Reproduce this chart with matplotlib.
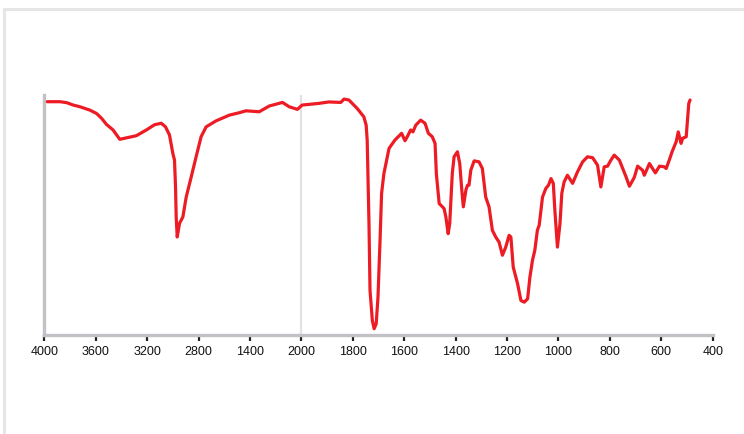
import numpy as np
import matplotlib
matplotlib.use("Agg")
import matplotlib.pyplot as plt
from matplotlib.lines import Line2D

plt.rcParams['font.family'] = ['Liberation Sans', 'DejaVu Sans']

# IR spectrum: wavenumber (cm-1) and transmittance (%)
wavenumber = [3977, 3878, 3826, 3775, 3723, 3646, 3594, 3555, 3516, 3465, 3413, 3361,
              3284, 3206, 3142, 3090, 3057, 3026, 3000, 2987, 2979, 2974, 2966, 2948,
              2922, 2896, 2857, 2819, 2780, 2741, 2664, 2560, 2483, 2431, 2328, 2250,
              2147, 2095, 2031, 1997, 1932, 1893, 1847, 1834, 1815, 1783, 1757, 1748,
              1744, 1737, 1733, 1724, 1717, 1709, 1702, 1694, 1688, 1679, 1659, 1636,
              1610, 1597, 1588, 1575, 1566, 1555, 1536, 1519, 1506, 1491, 1480, 1475,
              1464, 1445, 1438, 1429, 1423, 1413, 1406, 1393, 1384, 1376, 1370, 1360,
              1354, 1348, 1341, 1328, 1309, 1296, 1283, 1270, 1257, 1244, 1231, 1218,
              1205, 1192, 1185, 1176, 1159, 1146, 1133, 1120, 1111, 1101, 1092, 1082,
              1075, 1062, 1049, 1039, 1029, 1020, 1014, 1004, 994, 987, 978, 965, 945,
              926, 906, 887, 867, 848, 835, 822, 809, 796, 783, 763, 750, 737, 724,
              705, 692, 673, 666, 646, 634, 623, 607, 588, 581, 569, 558, 542, 534,
              523, 517, 503, 497, 493, 488]
transmittance = [97.2, 97.2, 96.8, 95.8, 95.1, 93.7, 92.3, 90.3, 87.7, 85.4, 81.5, 82.1,
                 83.0, 85.4, 87.6, 88.2, 86.7, 83.3, 75.6, 72.8, 61.6, 49.1, 40.7, 46.4,
                 49.1, 57.4, 65.8, 74.2, 82.6, 86.7, 89.2, 91.6, 92.6, 93.4, 93.0, 95.4,
                 96.9, 95.1, 94.0, 95.8, 96.5, 97.1, 96.9, 98.3, 97.9, 94.4, 90.9, 87.4,
                 81.2, 46.3, 18.4, 5.9, 2.4, 4.5, 15.6, 39.3, 58.9, 67.2, 77.7, 81.2,
                 84.0, 80.9, 82.6, 85.4, 84.6, 87.4, 89.5, 88.2, 84.0, 82.6, 79.8, 67.2,
                 54.7, 52.6, 49.1, 42.1, 46.3, 67.2, 74.2, 76.3, 71.4, 60.3, 53.3, 60.3,
                 62.3, 62.3, 68.6, 72.5, 72.1, 69.3, 57.4, 53.3, 43.5, 40.7, 38.6, 33.1,
                 36.5, 41.4, 40.7, 28.2, 21.2, 14.2, 13.5, 14.9, 24.0, 31.0, 35.1, 43.5,
                 45.6, 57.4, 61.0, 62.3, 65.1, 63.1, 51.9, 36.5, 46.3, 58.9, 63.7, 66.5, 63.1,
                 67.9, 72.1, 74.2, 73.8, 70.7, 61.6, 70.0, 70.3, 72.8, 74.9, 72.8, 69.3, 65.8, 61.9,
                 65.6, 70.3, 68.6, 66.5, 71.4, 69.3, 67.5, 70.3, 70.0, 69.3, 72.8, 76.3, 80.5, 84.6,
                 79.8, 81.9, 82.6, 90.9, 96.5, 97.9]

tick_values = [4000, 3600, 3200, 2800, 2400, 2000, 1800, 1600, 1400, 1200, 1000, 800, 600, 400]
tick_labels = ["4000", "3600", "3200", "2800", "1400", "2000", "1800", "1600", "1400",
               "1200", "1000", "800", "600", "400"]


def forward(x):
    x = np.asarray(x, dtype=float)
    return np.where(x >= 2000, x, 2000 - (2000 - x) * 2)


def inverse(y):
    y = np.asarray(y, dtype=float)
    return np.where(y >= 2000, y, 2000 - (2000 - y) / 2)


fig = plt.figure(figsize=(7.44, 4.34), dpi=100)
ax = fig.add_axes([44.3 / 744, (434 - 334.5) / 434, (712.7 - 44.3) / 744, (334.5 - 95) / 434])
ax.set_xscale('function', functions=(forward, inverse))
ax.set_xlim(4000, 400)
ax.set_ylim(0, 100)

ax.axvline(2000, color='#e2e2e2', lw=1.6, zorder=1)
ax.plot(wavenumber, transmittance, color='#ed1c24', lw=2.3, solid_joinstyle='round',
        solid_capstyle='round', zorder=3)

for s in ['top', 'right']:
    ax.spines[s].set_visible(False)
for s in ['left', 'bottom']:
    ax.spines[s].set_color('#c2c2c6')
    ax.spines[s].set_linewidth(2.4)
ax.spines['bottom'].set_zorder(2)

ax.set_yticks([])
ax.set_xticks(tick_values)
ax.set_xticklabels(tick_labels)
ax.xaxis.set_minor_locator(matplotlib.ticker.NullLocator())
ax.tick_params(axis='x', direction='out', length=4.5, width=1.6, color='#222222',
               labelsize=9, labelcolor='#111111', pad=3.5)

# light frame around the figure
fig.add_artist(Line2D([3.5 / 744, 3.5 / 744], [0, 1 - 8.5 / 434], transform=fig.transFigure,
                      color='#e6e6e6', lw=2.2))
fig.add_artist(Line2D([3.5 / 744, 1], [1 - 8.5 / 434, 1 - 8.5 / 434], transform=fig.transFigure,
                      color='#e6e6e6', lw=2.2))

fig.savefig('out.png', dpi=100)
